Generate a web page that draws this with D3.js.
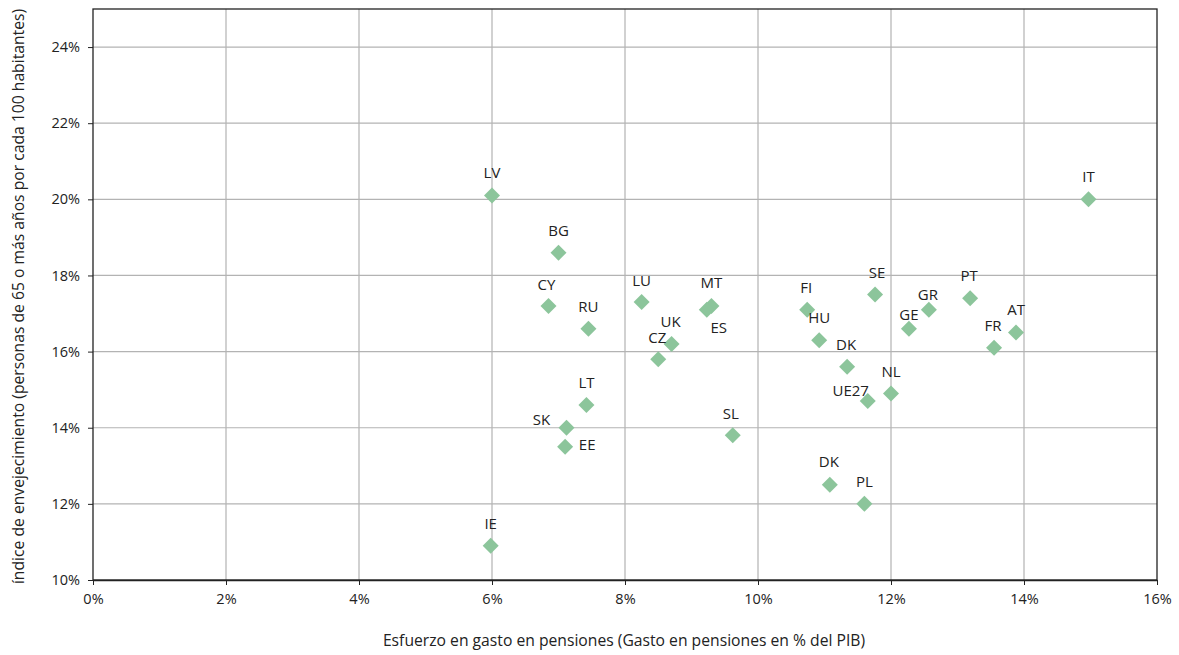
<!DOCTYPE html>
<html>
<head>
<meta charset="utf-8">
<script src="https://cdn.jsdelivr.net/npm/d3@7"></script>
<style>
  html, body { margin: 0; padding: 0; background: #fff; }
  text { font-family: "Open Sans", "DejaVu Sans", sans-serif; fill: #222; }
</style>
</head>
<body>
<svg id="chart" width="1179" height="655"></svg>
<script>
// ---- data ----
const countries = ["LV","BG","CY","RU","LU","MT","ES","UK","CZ","LT","SK","EE","SL","IE","DK","PL","IT","FI","SE","HU","DK","GE","GR","PT","FR","AT","NL","UE27"];
const pensionSpend = [6.0, 7.0, 6.85, 7.45, 8.25, 9.3, 9.23, 8.7, 8.5, 7.42, 7.12, 7.1, 9.62, 5.98, 11.08, 11.6, 14.97, 10.74, 11.76, 10.92, 11.34, 12.27, 12.57, 13.19, 13.55, 13.88, 12.0, 11.65];
const agingIndex = [20.1, 18.6, 17.2, 16.6, 17.3, 17.2, 17.1, 16.2, 15.8, 14.6, 14.0, 13.5, 13.8, 10.9, 12.5, 12.0, 20.0, 17.1, 17.5, 16.3, 15.6, 16.6, 17.1, 17.4, 16.1, 16.5, 14.9, 14.7];
const xTicks = [0, 2, 4, 6, 8, 10, 12, 14, 16];
const yTicks = [10, 12, 14, 16, 18, 20, 22, 24];
const xTitle = "Esfuerzo en gasto en pensiones (Gasto en pensiones en % del PIB)";
const yTitle = "índice de envejecimiento (personas de 65 o más años por cada 100 habitantes)";

// label placement (pixel offsets from point), index-aligned
const labelDx = [0,0,-2,0,0,0,12,-1,-1,0,-25,22,-2,0,-1,0,0,-1,2,0,-1,0,-1,-1,-1,0,0,-17];
const labelDy = [-23,-22,-21,-22,-22,-23,18,-22,-22,-22,-8,-2,-22,-22,-23,-22,-23,-22,-22,-23,-22,-14,-15,-23,-22,-23,-22,-11];

// ---- layout ----
const svg = d3.select("#chart");
const mLeft = 93, mRight = 1157, mTop = 9, mBottom = 580;
const x = d3.scaleLinear().domain([0, 16]).range([mLeft, mRight]);
const y = d3.scaleLinear().domain([10, 25]).range([mBottom, mTop]);

// grid
svg.append("g").selectAll("line").data(xTicks.slice(1, -1)).join("line")
  .attr("x1", d => x(d)).attr("x2", d => x(d)).attr("y1", mTop).attr("y2", mBottom)
  .attr("stroke", "#b3b3b3").attr("stroke-width", 1.2);
svg.append("g").selectAll("line").data(yTicks.slice(1)).join("line")
  .attr("x1", mLeft).attr("x2", mRight).attr("y1", d => y(d)).attr("y2", d => y(d))
  .attr("stroke", "#b3b3b3").attr("stroke-width", 1.2);

// frame
svg.append("rect").attr("x", mLeft).attr("y", mTop).attr("width", mRight - mLeft).attr("height", mBottom - mTop)
  .attr("fill", "none").attr("stroke", "#222").attr("stroke-width", 1.3);

// axes
const xAxis = d3.axisBottom(x).tickValues(xTicks).tickFormat(d => d + "%").tickSize(5).tickSizeOuter(0).tickPadding(9);
const gx = svg.append("g").attr("transform", `translate(0,${mBottom})`).call(xAxis);
gx.select(".domain").attr("stroke", "#222").attr("stroke-width", 1.3);
gx.selectAll(".tick line").attr("stroke", "#222");
gx.selectAll(".tick text").attr("font-size", 14.5).attr("fill", "#222");

const yAxis = d3.axisLeft(y).tickValues(yTicks).tickFormat(d => d + "%").tickSize(5).tickSizeOuter(0).tickPadding(8);
const gy = svg.append("g").attr("transform", `translate(${mLeft},0)`).call(yAxis);
gy.select(".domain").remove();
gy.selectAll(".tick line").attr("stroke", "#222");
gy.selectAll(".tick text").attr("font-size", 14.5).attr("fill", "#222");
gx.selectAll("text").style("font-family", '"Open Sans", sans-serif');
gy.selectAll("text").style("font-family", '"Open Sans", sans-serif');

// titles
svg.append("text").attr("x", (mLeft + mRight) / 2 - 1).attr("y", 646)
  .attr("text-anchor", "middle").attr("font-size", 15.7).text(xTitle);
svg.append("text").attr("transform", `translate(24,${(mTop + mBottom) / 2 + 2}) rotate(-90)`)
  .attr("text-anchor", "middle").attr("font-size", 15.7).text(yTitle);

// points
const pts = countries.map((c, i) => ({ c, xv: pensionSpend[i], yv: agingIndex[i], dx: labelDx[i], dy: labelDy[i] }));
const r = 8;
svg.append("g").selectAll("path").data(pts).join("path")
  .attr("d", d => `M${x(d.xv)},${y(d.yv) - r}L${x(d.xv) + r},${y(d.yv)}L${x(d.xv)},${y(d.yv) + r}L${x(d.xv) - r},${y(d.yv)}Z`)
  .attr("fill", "#8cc59b");

svg.append("g").selectAll("text").data(pts).join("text")
  .attr("x", d => x(d.xv) + d.dx).attr("y", d => y(d.yv) + d.dy + 5.5)
  .attr("text-anchor", "middle").attr("font-size", 15).text(d => d.c);
</script>
</body>
</html>
